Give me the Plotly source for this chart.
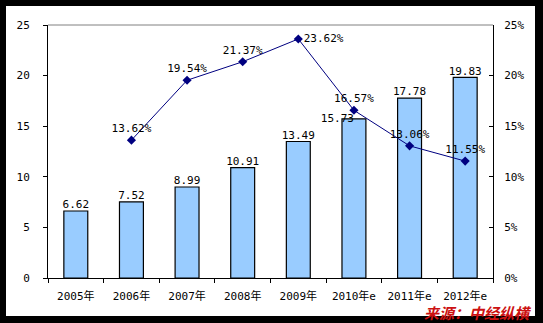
import plotly.graph_objects as go

categories = ["2005年", "2006年", "2007年", "2008年", "2009年", "2010年e", "2011年e", "2012年e"]
bar_values = [6.62, 7.52, 8.99, 10.91, 13.49, 15.73, 17.78, 19.83]
growth_values = [None, 13.62, 19.54, 21.37, 23.62, 16.57, 13.06, 11.55]
bar_label_pos = ["top center"] * 5 + ["middle left", "top center", "top center"]
growth_label_pos = ["top center"] * 4 + ["middle right"] + ["top center"] * 3
left_ticks = [0, 5, 10, 15, 20, 25]
right_ticks = [0, 5, 10, 15, 20, 25]
right_tick_text = [f"{t}%" for t in right_ticks]
source_text = "来源：中经纵横"

FONT = "DejaVu Sans Mono, Noto Sans CJK SC"

fig = go.Figure()
fig.add_trace(go.Bar(
    x=categories, y=bar_values,
    marker=dict(color="#99CCFF", line=dict(color="black", width=1.2)),
    yaxis="y", showlegend=False, hoverinfo="skip",
))
fig.add_trace(go.Scatter(
    x=categories, y=bar_values, mode="text",
    text=[f"{v:.2f}" for v in bar_values], textposition=bar_label_pos,
    textfont=dict(family=FONT, size=11, color="black"),
    yaxis="y", showlegend=False, hoverinfo="skip", cliponaxis=False,
))
fig.add_trace(go.Scatter(
    x=categories, y=growth_values, mode="lines+markers+text",
    line=dict(color="#000080", width=1),
    marker=dict(symbol="diamond", size=7, color="#000080"),
    text=[("" if v is None else f"{v:.2f}%") for v in growth_values],
    textposition=growth_label_pos,
    textfont=dict(family=FONT, size=11, color="black"),
    yaxis="y2", showlegend=False, hoverinfo="skip", cliponaxis=False,
))

L, R, T, B = 48, 50, 25, 45
W, H = 543, 323
pw, ph = W - L - R, H - T - B

def px(x):
    return (x - L) / pw

def py(y):
    return (H - B - y) / ph

fig.update_layout(
    width=W, height=H,
    margin=dict(l=L, r=R, t=T, b=B, pad=0),
    paper_bgcolor="black",
    plot_bgcolor="rgba(0,0,0,0)",
    bargap=0.57,
    font=dict(family=FONT, size=11, color="black"),
    xaxis=dict(
        type="category", showline=True, linecolor="black", linewidth=1,
        ticks="outside", ticklen=4, tickcolor="black", tickson="boundaries",
        showgrid=False, tickfont=dict(family=FONT, size=11, color="black"),
        ticklabelstandoff=8,
    ),
    yaxis=dict(
        range=[0, 25], tickvals=left_ticks, showline=True, linecolor="black",
        linewidth=1, ticks="outside", ticklen=4, tickcolor="black",
        showgrid=False, zeroline=False,
        tickfont=dict(family=FONT, size=11, color="black"),
        ticklabelstandoff=11,
    ),
    yaxis2=dict(
        range=[0, 25], tickvals=right_ticks, ticktext=right_tick_text,
        overlaying="y", side="right", showline=True, linecolor="black",
        linewidth=1, ticks="inside", ticklen=4, tickcolor="black",
        showgrid=False, zeroline=False,
        tickfont=dict(family=FONT, size=11, color="black"),
        ticklabelstandoff=8,
    ),
    shapes=[
        dict(type="rect", xref="paper", yref="paper", layer="below",
             x0=px(6), x1=px(535), y0=py(316), y1=py(6),
             fillcolor="white", line=dict(width=0)),
        dict(type="line", xref="paper", yref="paper", x0=0, x1=1, y0=1, y1=1,
             line=dict(color="#808080", width=1)),
    ],
    annotations=[
        dict(text=f"<b><i>{source_text}</i></b>", xref="paper", yref="paper",
             x=px(478), y=py(312), xanchor="center", yanchor="middle",
             showarrow=False,
             font=dict(family="Noto Sans CJK SC", size=15, color="#CC1111")),
    ],
)

fig.write_html("out.html")
